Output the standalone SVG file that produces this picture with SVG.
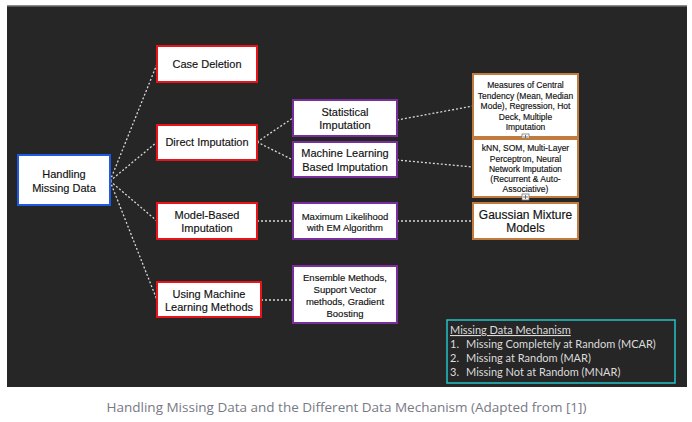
<svg xmlns="http://www.w3.org/2000/svg" width="692" height="422" viewBox="0 0 692 422">
<style>
.box{fill:#fff;stroke-width:2}
.red{stroke:#e8141a}
.blue{stroke:#1f5ae0}
.pur{stroke:#7a2e9e}
.org{stroke:#c27b3e}
.t{font-family:"Liberation Sans",Arial,sans-serif;fill:#111;text-anchor:middle;stroke:#111;stroke-width:0.15}
.c{fill:none;stroke:#d8d8d8;stroke-width:1.3;stroke-dasharray:2 2}
.lg{font-family:Lato,"Liberation Sans",sans-serif;font-size:11px;fill:#dcdcdc}
</style>
<rect x="0" y="0" width="692" height="422" fill="#fff"/>
<rect x="7" y="5" width="680" height="382" fill="#262626"/>
<rect x="7" y="5" width="680" height="1.5" fill="#8a8a8a"/>
<g id="connectors">
<path class="c" d="M110 181 L157 64"/>
<path class="c" d="M110 181 L157 142"/>
<path class="c" d="M110 181 L157 221"/>
<path class="c" d="M110 181 L157 300"/>
<path class="c" d="M257 142 L293 118"/>
<path class="c" d="M257 142 L293 160"/>
<path class="c" d="M397 120 L473 106"/>
<path class="c" d="M397 160 L473 167"/>
<path class="c" d="M257 221 L293 221"/>
<path class="c" d="M397 221 L473 221"/>
<path class="c" d="M261 300 L293 300"/>
</g>
<g id="handling">
<rect class="box blue" x="18" y="155" width="92" height="50"/>
<text class="t" font-size="11" x="64" y="178">Handling</text>
<text class="t" font-size="11" x="64" y="192">Missing Data</text>
</g>
<g id="case-deletion">
<rect class="box red" x="157" y="46" width="100" height="36"/>
<text class="t" font-size="11" x="207" y="68">Case Deletion</text>
</g>
<g id="direct-imputation">
<rect class="box red" x="157" y="125" width="100" height="35"/>
<text class="t" font-size="11" x="207" y="146">Direct Imputation</text>
</g>
<g id="model-based">
<rect class="box red" x="157" y="203" width="100" height="36"/>
<text class="t" font-size="11" x="207" y="219">Model-Based</text>
<text class="t" font-size="11" x="207" y="232">Imputation</text>
</g>
<g id="using-ml">
<rect class="box red" x="157" y="282" width="104" height="35"/>
<text class="t" font-size="11" x="209" y="298">Using Machine</text>
<text class="t" font-size="11" x="209" y="311">Learning Methods</text>
</g>
<g id="statistical">
<rect class="box pur" x="293" y="100" width="104" height="36"/>
<text class="t" font-size="11" x="345" y="116">Statistical</text>
<text class="t" font-size="11" x="345" y="129">Imputation</text>
</g>
<g id="ml-based">
<rect class="box pur" x="293" y="142" width="104" height="35"/>
<text class="t" font-size="11" x="345" y="157">Machine Learning</text>
<text class="t" font-size="11" x="345" y="171">Based Imputation</text>
</g>
<g id="max-likelihood">
<rect class="box pur" x="293" y="203" width="104" height="36"/>
<text class="t" font-size="9.5" x="345" y="219.5">Maximum Likelihood</text>
<text class="t" font-size="9.5" x="345" y="230.5">with EM Algorithm</text>
</g>
<g id="ensemble">
<rect class="box pur" x="293" y="266" width="104" height="57"/>
<text class="t" font-size="9.5" x="345" y="280.5">Ensemble Methods,</text>
<text class="t" font-size="9.5" x="345" y="292.5">Support Vector</text>
<text class="t" font-size="9.5" x="345" y="304.5">methods, Gradient</text>
<text class="t" font-size="9.5" x="345" y="316.5">Boosting</text>
</g>
<g id="measures">
<rect class="box org" x="473" y="74" width="105" height="63"/>
<text class="t" font-size="8.5" x="525.5" y="88">Measures of Central</text>
<text class="t" font-size="8.5" x="525.5" y="98.5">Tendency (Mean, Median</text>
<text class="t" font-size="8.5" x="525.5" y="109">Mode), Regression, Hot</text>
<text class="t" font-size="8.5" x="525.5" y="119.5">Deck, Multiple</text>
<text class="t" font-size="8.5" x="525.5" y="130">Imputation</text>
<rect x="522" y="134" width="7" height="6" fill="#fff" stroke="#777" stroke-width="0.8"/>
<path d="M525.5 135 V139 M523 137 H528" stroke="#555" stroke-width="0.8"/>
</g>
<g id="knn">
<rect class="box org" x="473" y="139" width="105" height="58"/>
<text class="t" font-size="8.5" x="525.5" y="151">kNN, SOM, Multi-Layer</text>
<text class="t" font-size="8.5" x="525.5" y="161.5">Perceptron, Neural</text>
<text class="t" font-size="8.5" x="525.5" y="171.5">Network Imputation</text>
<text class="t" font-size="8.5" x="525.5" y="181.5">(Recurrent &amp; Auto-</text>
<text class="t" font-size="8.5" x="525.5" y="192">Associative)</text>
<rect x="522" y="194" width="7" height="6" fill="#fff" stroke="#777" stroke-width="0.8"/>
<path d="M525.5 195 V199 M523 197 H528" stroke="#555" stroke-width="0.8"/>
</g>
<g id="gaussian">
<rect class="box org" x="473" y="203" width="105" height="36"/>
<text class="t" font-size="12" x="525.5" y="219">Gaussian Mixture</text>
<text class="t" font-size="12" x="525.5" y="232">Models</text>
</g>
<g id="legend">
<rect x="447" y="320" width="228" height="63" fill="none" stroke="#22c4c8" stroke-width="1.5"/>
<text class="lg" x="450" y="334" text-decoration="underline">Missing Data Mechanism</text>
<text class="lg" x="450" y="348">1.</text>
<text class="lg" x="466" y="348">Missing Completely at Random (MCAR)</text>
<text class="lg" x="450" y="362">2.</text>
<text class="lg" x="466" y="362">Missing at Random (MAR)</text>
<text class="lg" x="450" y="376">3.</text>
<text class="lg" x="466" y="376">Missing Not at Random (MNAR)</text>
</g>
<text x="346.5" y="412" font-family="'Open Sans','Noto Sans',sans-serif" font-size="13.5" fill="#777985" text-anchor="middle">Handling Missing Data and the Different Data Mechanism (Adapted from [1])</text>
</svg>
